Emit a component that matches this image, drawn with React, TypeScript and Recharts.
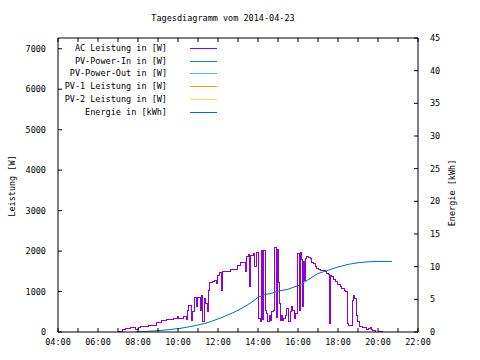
import React from 'react';
import { LineChart, Line, XAxis, YAxis, Legend, Label } from 'recharts';

const FONT = '"DejaVu Sans Mono", "Liberation Mono", monospace';
const FS = 8.5;

const chartTitle = 'Tagesdiagramm vom 2014-04-23';
const leftAxisTitle = 'Leistung [W]';
const rightAxisTitle = 'Energie [kWh]';

const seriesNames = [
  'AC Leistung in [W]',
  'PV-Power-In in [W]',
  'PV-Power-Out in [W]',
  'PV-1 Leistung in [W]',
  'PV-2 Leistung in [W]',
  'Energie in [kWh]',
];
const seriesColors = ['#9400d3', '#009e73', '#56b4e9', '#e69f00', '#f0e442', '#0072b2'];

const acTimes = [
  '06:45', '07:00', '07:12', '07:21', '07:36', '07:51', '08:00', '08:06', '08:30', '08:54',
  '09:09', '09:24', '09:45', '09:57', '10:00', '10:15', '10:24', '10:27', '10:30', '10:39',
  '10:42', '10:48', '10:54', '10:57', '11:06', '11:09', '11:12', '11:18', '11:21', '11:27',
  '11:30', '11:33', '11:42', '11:48', '11:54', '11:57', '12:03', '12:09', '12:12', '12:36',
  '12:57', '13:06', '13:21', '13:24', '13:30', '13:33', '13:36', '13:45', '13:48', '13:54',
  '14:00', '14:02', '14:06', '14:09', '14:12', '14:15', '14:21', '14:24', '14:27', '14:33',
  '14:36', '14:39', '14:45', '14:48', '14:54', '14:57', '15:00', '15:03', '15:06', '15:09',
  '15:12', '15:15', '15:21', '15:24', '15:30', '15:36', '15:39', '15:42', '15:48', '15:51',
  '15:57', '16:03', '16:06', '16:09', '16:12', '16:15', '16:18', '16:21', '16:24', '16:30',
  '16:36', '16:39', '16:45', '16:51', '16:54', '17:00', '17:06', '17:15', '17:21', '17:24',
  '17:30', '17:33', '17:36', '17:39', '17:45', '17:51', '17:57', '18:06', '18:09', '18:18',
  '18:21', '18:27', '18:30', '18:36', '18:39', '18:42', '18:45', '18:48', '18:54', '18:57',
  '19:03', '19:12', '19:24', '19:30', '19:36', '19:39', '19:42', '19:51', '20:00', '20:12',
];
const acPower = [
  0, 20, 50, 80, 100, 65, 115, 125, 170, 230,
  295, 320, 345, 395, 345, 395, 320, 540, 665, 295,
  500, 860, 640, 860, 540, 890, 255, 835, 700, 500,
  1035, 1215, 1240, 1265, 1205, 1400, 1460, 1035, 1485, 1545,
  1650, 1730, 1485, 1855, 1910, 1115, 1900, 1940, 1610, 1955,
  1940, 335, 255, 2020, 300, 2020, 540, 460, 255, 400,
  295, 500, 540, 2100, 350, 2050, 1215, 700, 295, 400,
  295, 330, 400, 580, 255, 500, 625, 540, 335, 460,
  1940, 540, 1955, 1800, 625, 1750, 1280, 1815, 1870, 1850,
  1815, 1730, 1690, 1625, 1570, 1545, 1530, 1510, 1485, 1445,
  1420, 215, 1400, 1360, 1300, 1240, 1175, 1115, 1075, 1035,
  990, 215, 170, 150, 170, 790, 910, 830, 420, 255,
  130, 115, 65, 90, 115, 65, 25, 0, 10, 0,
];

const energyTimes = [
  '07:51', '08:45', '09:21', '10:06', '10:45', '11:27', '12:06', '12:45', '13:06', '13:27',
  '13:45', '14:00', '14:21', '14:39', '15:00', '15:30', '16:06', '16:30', '17:00', '17:30',
  '18:00', '18:30', '19:00', '19:30', '20:00', '20:42',
];
const energyKWh = [
  0, 0.15, 0.3, 0.55, 0.9, 1.4, 2.1, 2.95, 3.5, 4.1,
  4.7, 5.3, 5.75, 5.9, 6.25, 6.55, 7.2, 8.0, 8.95, 9.45,
  9.95, 10.35, 10.6, 10.75, 10.8, 10.8,
];

const hourTicks = [4, 5, 6, 7, 8, 9, 10, 11, 12, 13, 14, 15, 16, 17, 18, 19, 20, 21, 22];
const powerTicks = [0, 1000, 2000, 3000, 4000, 5000, 6000, 7000];
const energyTicks = [0, 5, 10, 15, 20, 25, 30, 35, 40, 45];
const powerMax = 7266;
const energyMax = 45;

const toHours = (t: string) => {
  const [h, m] = t.split(':').map(Number);
  return h + m / 60;
};
const acData = acTimes.map((t, i) => ({ t: toHours(t), v: acPower[i] }));
const energyData = energyTimes.map((t, i) => ({ t: toHours(t), v: energyKWh[i] }));
const emptyData: { t: number; v: number }[] = [];

const fmtHour = (v: number) => (v % 2 === 0 ? `${String(v).padStart(2, '0')}:00` : '');
const noLabel = () => '';

const tickStyle = { fill: '#000', fontSize: FS, fontFamily: FONT };

const renderLegend = () => (
  <div style={{ position: 'relative', width: 230, height: 130, fontFamily: FONT, fontSize: FS, color: '#000' }}>
    {seriesNames.map((name, i) => (
      <div key={name} style={{ position: 'absolute', left: 0, top: 42 + i * 12.7, width: 230, height: 12.7 }}>
        <span style={{ position: 'absolute', left: 0, width: 167, textAlign: 'right', lineHeight: '12.7px', whiteSpace: 'pre' }}>{name}</span>
        <span style={{ position: 'absolute', left: 190, width: 27, top: 6, height: 1, background: seriesColors[i] }} />
      </div>
    ))}
  </div>
);

export default function App() {
  return (
    <div style={{ position: 'absolute', left: 0, top: 0, width: 480, height: 360, background: '#fff' }}>
      <div style={{ position: 'absolute', left: 0, top: 12, width: 446, textAlign: 'center', fontFamily: FONT, fontSize: FS, color: '#000', lineHeight: '12px' }}>
        {chartTitle}
      </div>
      <LineChart width={480} height={360} margin={{ top: 37, right: 0, bottom: 0, left: 0 }}>
        <XAxis
          xAxisId="bottom"
          dataKey="t"
          type="number"
          domain={[4, 22]}
          ticks={hourTicks}
          interval={0}
          allowDataOverflow
          tickFormatter={fmtHour}
          height={28}
          tickSize={-4}
          tickMargin={11}
          tick={tickStyle}
          stroke="#000"
          tickLine={{ stroke: '#000' }}
        />
        <XAxis
          xAxisId="top"
          dataKey="t"
          orientation="top"
          type="number"
          domain={[4, 22]}
          ticks={hourTicks}
          interval={0}
          allowDataOverflow
          height={1}
          tickSize={-4}
          tickMargin={0}
          tickFormatter={noLabel}
          tick={tickStyle}
          stroke="#000"
          tickLine={{ stroke: '#000' }}
        />
        <YAxis
          yAxisId="power"
          type="number"
          domain={[0, powerMax]}
          ticks={powerTicks}
          interval={0}
          allowDataOverflow
          width={58}
          tickSize={-4}
          tickMargin={16}
          tick={tickStyle}
          stroke="#000"
          tickLine={{ stroke: '#000' }}
        >
          <Label
            content={() => (
              <text x={12} y={186} transform="rotate(-90 12 186)" textAnchor="middle" dominantBaseline="central" fontFamily={FONT} fontSize={FS} fill="#000">
                {leftAxisTitle}
              </text>
            )}
          />
        </YAxis>
        <YAxis
          yAxisId="powerMirror"
          orientation="right"
          type="number"
          domain={[0, powerMax]}
          ticks={powerTicks}
          interval={0}
          allowDataOverflow
          width={0}
          tickSize={-4}
          tickMargin={0}
          tickFormatter={noLabel}
          tick={tickStyle}
          axisLine={false}
          tickLine={{ stroke: '#000' }}
        />
        <YAxis
          yAxisId="energy"
          orientation="right"
          type="number"
          domain={[0, energyMax]}
          ticks={energyTicks}
          interval={0}
          allowDataOverflow
          width={62}
          tickSize={-4}
          tickMargin={16}
          tick={tickStyle}
          stroke="#000"
          tickLine={{ stroke: '#000' }}
        >
          <Label
            content={() => (
              <text x={452} y={193} transform="rotate(-90 452 193)" textAnchor="middle" dominantBaseline="central" fontFamily={FONT} fontSize={FS} fill="#000">
                {rightAxisTitle}
              </text>
            )}
          />
        </YAxis>
        <Legend
          layout="vertical"
          align="center"
          verticalAlign="middle"
          wrapperStyle={{ left: 0, top: 0, width: 230, height: 130 }}
          content={renderLegend}
        />
        <Line xAxisId="bottom" yAxisId="power" data={acData} dataKey="v" name={seriesNames[0]} type="stepAfter" stroke={seriesColors[0]} strokeWidth={1} dot={false} isAnimationActive={false} shapeRendering="crispEdges" />
        <Line xAxisId="top" yAxisId="powerMirror" data={emptyData} dataKey="v" name={seriesNames[1]} stroke={seriesColors[1]} strokeWidth={1} dot={false} isAnimationActive={false} />
        <Line xAxisId="bottom" yAxisId="power" data={emptyData} dataKey="v" name={seriesNames[2]} stroke={seriesColors[2]} strokeWidth={1} dot={false} isAnimationActive={false} />
        <Line xAxisId="bottom" yAxisId="power" data={emptyData} dataKey="v" name={seriesNames[3]} stroke={seriesColors[3]} strokeWidth={1} dot={false} isAnimationActive={false} />
        <Line xAxisId="bottom" yAxisId="power" data={emptyData} dataKey="v" name={seriesNames[4]} stroke={seriesColors[4]} strokeWidth={1} dot={false} isAnimationActive={false} />
        <Line xAxisId="bottom" yAxisId="energy" data={energyData} dataKey="v" name={seriesNames[5]} type="linear" stroke={seriesColors[5]} strokeWidth={1} dot={false} isAnimationActive={false} />
      </LineChart>
    </div>
  );
}
